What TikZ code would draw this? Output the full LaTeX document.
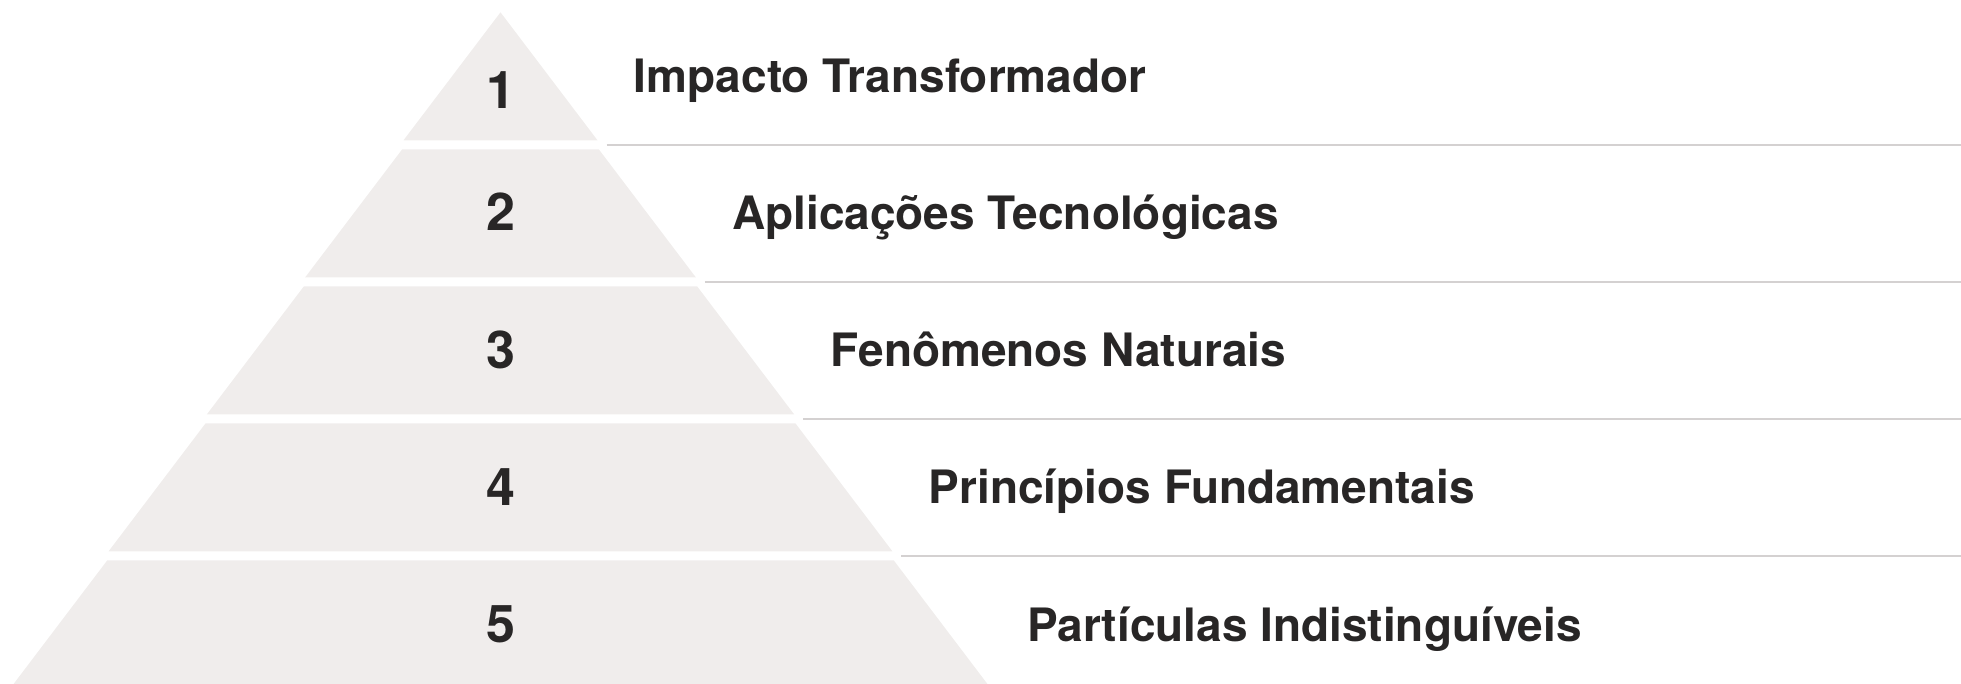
\documentclass[tikz,border=0pt]{standalone}
\usepackage{fontspec}
\setmainfont{TeX Gyre Heros}
\definecolor{layerfill}{HTML}{F0EDEC}
\definecolor{inkdark}{HTML}{282626}
\definecolor{sepgray}{HTML}{D4D1D1}
\tikzset{
  layerbox/.style={fill=layerfill, draw=none},
  numlabel/.style={inner sep=0pt, anchor=base, text=inkdark, font=\fontsize{26}{30}\selectfont\bfseries},
  steplabel/.style={inner sep=0pt, anchor=base west, text=inkdark, font=\fontsize{23}{27}\selectfont\bfseries},
  sepline/.style={draw=sepgray, line width=1pt}
}
\begin{document}
\begin{tikzpicture}[x=0.5pt, y=-0.5pt]
  \useasboundingbox (0,0) rectangle (1961,684);
  \clip (0,0) rectangle (1961,684);
  \def\cx{500.5}
  \foreach \i/\lbl in {0/Impacto Transformador, 1/Aplicações Tecnológicas, 2/Fenômenos Naturais, 3/Princípios Fundamentais, 4/Partículas Indistinguíveis}{
    \pgfmathsetmacro{\ty}{12.3+137*\i}
    \pgfmathsetmacro{\by}{\ty+128}
    \pgfmathsetmacro{\thw}{98.3*\i}
    \pgfmathsetmacro{\bhw}{98.3*\i+97}
    \fill[layerbox] (\cx-\thw,\ty) -- (\cx+\thw,\ty) -- (\cx+\bhw,\by) -- (\cx-\bhw,\by) -- cycle;
    \pgfmathsetmacro{\nb}{ifthenelse(\i==0,109,231+137.3*(\i-1))}
    \pgfmathtruncatemacro{\num}{\i+1}
    \node[numlabel] (n\num) at (\cx,\nb) {\num};
    \pgfmathsetmacro{\lb}{92.3+137.2*\i}
    \node[steplabel] (l\num) at (\cx+\bhw+36,\lb) {\lbl};
    \ifnum\i<4
      \pgfmathsetmacro{\sy}{\by+4.5}
      \coordinate (s\num a) at (\cx+\bhw+9,\sy);
      \coordinate (s\num b) at (1961,\sy);
      \draw[sepline] (s\num a) -- (s\num b);
    \fi
  }
\end{tikzpicture}
\end{document}
